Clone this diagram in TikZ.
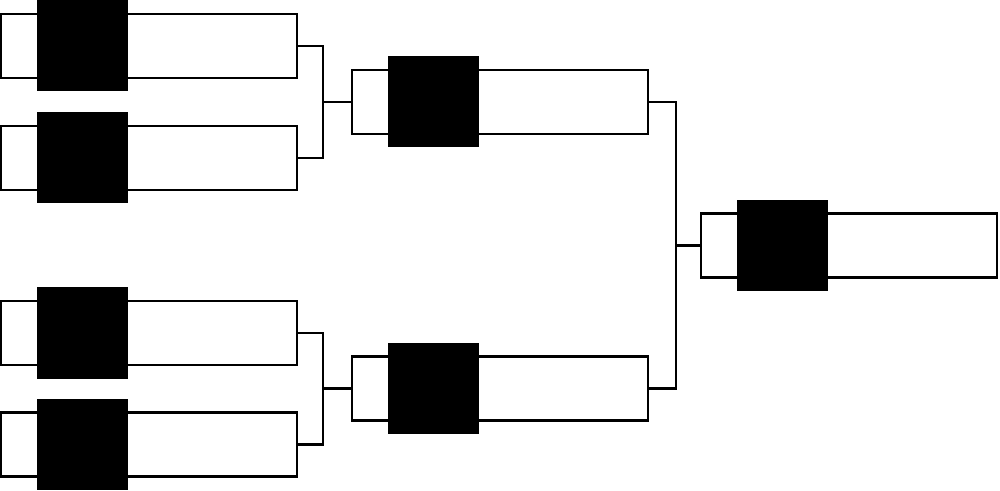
\documentclass[tikz,border=0pt]{standalone}
\usepackage{tikz}
\usetikzlibrary{positioning,calc}

\begin{document}
\begin{tikzpicture}[line width=1.3pt,
  slot/.style={draw,inner sep=0pt,minimum width=5.92cm,minimum height=1.28cm},
  seed/.style={fill=black,inner sep=0pt,minimum size=1.82cm,anchor=west}]
\useasboundingbox (0,0) rectangle (20,-9.82);
% first round
\node[slot] (r1a) at (2.98,-0.92) {};
\node[slot] (r1b) at (2.98,-3.16) {};
\node[slot] (r1c) at (2.98,-6.66) {};
\node[slot] (r1d) at (2.98,-8.89) {};
% second round and final
\node[slot] (r2a) at (10.0,-2.04) {};
\node[slot] (r2b) at (10.0,-7.77) {};
\node[slot] (fin) at (16.98,-4.91) {};
\foreach \s in {r1a,r1b,r1c,r1d,r2a,r2b,fin}
  \node[seed,right=0.72cm of \s.west] (sq-\s) {};
% brackets
\coordinate (j1) at (6.46,-2.04);
\coordinate (j2) at (6.46,-7.77);
\coordinate (j3) at (13.52,-4.91);
\draw (r1a.east) -| (j1) |- (r1b.east); \draw (j1) -- (r2a.west);
\draw (r1c.east) -| (j2) |- (r1d.east); \draw (j2) -- (r2b.west);
\draw (r2a.east) -| (j3) |- (r2b.east); \draw (j3) -- (fin.west);
\end{tikzpicture}
\end{document}
